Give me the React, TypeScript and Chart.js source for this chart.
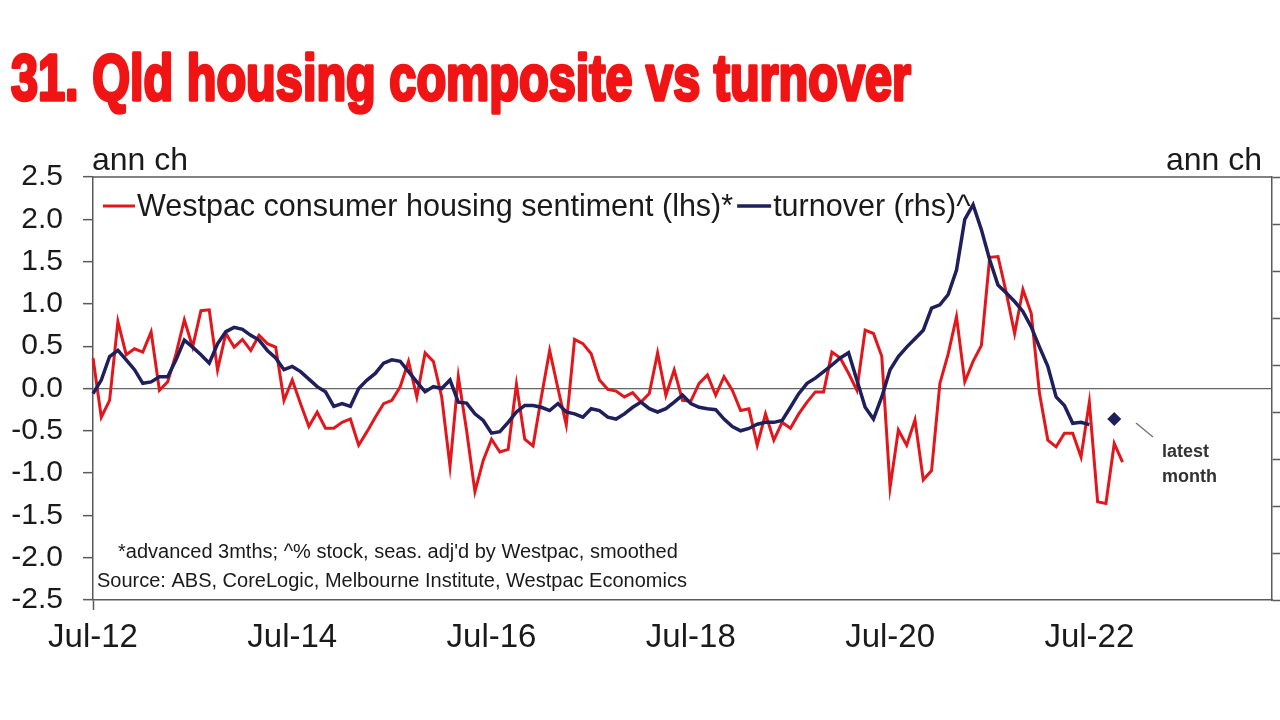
import React, { useEffect, useRef } from 'react';
import { Chart, registerables } from 'chart.js';

Chart.register(...registerables);

// ---------- DATA ----------
const MONTH_NAMES = ['Jan', 'Feb', 'Mar', 'Apr', 'May', 'Jun', 'Jul', 'Aug', 'Sep', 'Oct', 'Nov', 'Dec'];
const START_MONTH = 6; // July
const START_YEAR = 2012;
const N_MONTHS = 143; // Jul-12 .. May-24

const months: string[] = [];
for (let i = 0; i < N_MONTHS; i++) {
  const mi = (START_MONTH + i) % 12;
  const y = START_YEAR + Math.floor((START_MONTH + i) / 12);
  months.push(`${MONTH_NAMES[mi]}-${String(y % 100).padStart(2, '0')}`);
}

const xTickLabels = ['Jul-12', 'Jul-14', 'Jul-16', 'Jul-18', 'Jul-20', 'Jul-22'];

// Westpac consumer housing sentiment (lhs), ann ch, monthly from Jul-12
const sentiment = [
  0.36, -0.34, -0.14, 0.79, 0.40, 0.47, 0.43, 0.67, -0.02, 0.08,
  0.41, 0.81, 0.49, 0.92, 0.93, 0.22, 0.65, 0.49, 0.58, 0.45,
  0.63, 0.53, 0.49, -0.14, 0.10, -0.18, -0.45, -0.28, -0.47, -0.47,
  -0.40, -0.36, -0.67, -0.51, -0.34, -0.18, -0.14, 0.02, 0.32, -0.10,
  0.42, 0.32, -0.10, -0.92, 0.14, -0.50, -1.22, -0.85, -0.60, -0.75,
  -0.72, 0.05, -0.60, -0.68, -0.10, 0.45, 0.00, -0.43, 0.58, 0.53,
  0.41, 0.10, -0.01, -0.03, -0.10, -0.05, -0.16, -0.06, 0.42, -0.08,
  0.22, -0.14, -0.15, 0.06, 0.16, -0.08, 0.14, -0.02, -0.26, -0.24,
  -0.67, -0.30, -0.61, -0.40, -0.47, -0.30, -0.16, -0.04, -0.04, 0.43,
  0.36, 0.18, -0.02, 0.69, 0.65, 0.38, -1.17, -0.49, -0.67, -0.37,
  -1.08, -0.97, 0.06, 0.41, 0.85, 0.08, 0.32, 0.51, 1.55, 1.56,
  1.13, 0.65, 1.17, 0.89, -0.06, -0.61, -0.69, -0.53, -0.53, -0.81,
  -0.16, -1.34, -1.36, -0.65, -0.87,
];

// Turnover (rhs), ann ch, monthly from Jul-12
const turnover = [
  -0.11, 0.18, 0.68, 0.81, 0.61, 0.40, 0.11, 0.14, 0.25, 0.25,
  0.61, 1.03, 0.88, 0.72, 0.54, 0.95, 1.21, 1.30, 1.26, 1.13,
  1.03, 0.81, 0.65, 0.40, 0.47, 0.36, 0.20, 0.04, -0.07, -0.38,
  -0.32, -0.38, 0.00, 0.18, 0.32, 0.54, 0.61, 0.58, 0.36, 0.14,
  -0.07, 0.04, 0.00, 0.18, -0.29, -0.31, -0.54, -0.68, -0.95, -0.92,
  -0.72, -0.50, -0.36, -0.36, -0.40, -0.47, -0.32, -0.50, -0.54, -0.61,
  -0.43, -0.47, -0.61, -0.65, -0.54, -0.40, -0.29, -0.43, -0.50, -0.43,
  -0.29, -0.14, -0.32, -0.40, -0.43, -0.45, -0.65, -0.81, -0.90, -0.85,
  -0.76, -0.72, -0.72, -0.68, -0.40, -0.11, 0.11, 0.22, 0.36, 0.50,
  0.65, 0.76, 0.18, -0.40, -0.65, -0.18, 0.40, 0.68, 0.88, 1.06,
  1.24, 1.71, 1.78, 2.00, 2.52, 3.60, 3.91, 3.38, 2.74, 2.20,
  2.03, 1.85, 1.64, 1.31, 0.88, 0.47, -0.18, -0.36, -0.74, -0.72,
  -0.77,
];

const latestTurnoverMonth = 'Oct-22';
const latestTurnoverValue = -0.65;

const LHS_MIN = -2.5;
const LHS_MAX = 2.5;
const LHS_STEP = 0.5;
const RHS_MIN = -4.5;
const RHS_MAX = 4.5;
const RHS_STEP = 1;

// ---------- TEXT ----------
const TITLE = '31. Qld housing composite vs turnover';
const LEGEND_1 = 'Westpac consumer housing sentiment (lhs)*';
const LEGEND_2 = 'turnover (rhs)^';
const UNIT = 'ann ch';
const NOTE_1 = "*advanced 3mths; ^% stock, seas. adj'd by Westpac, smoothed";
const NOTE_2 = 'Source: ABS, CoreLogic, Melbourne Institute, Westpac Economics';
const LATEST_1 = 'latest';
const LATEST_2 = 'month';

// ---------- STYLE ----------
const RED = '#e3161b';
const NAVY = '#1f1f5c';
const TITLE_RED = '#f01414';
const TEXT = '#1a1a1a';
const AXIS = '#5a5a5a';
const FONT = '"Liberation Sans", Arial, Helvetica, sans-serif';

const decor = {
  id: 'decor',
  beforeDraw(chart: any) {
    const { ctx, width, height } = chart;
    ctx.save();
    ctx.fillStyle = '#ffffff';
    ctx.fillRect(0, 0, width, height);
    ctx.restore();
  },
  afterDraw(chart: any) {
    const { ctx, chartArea: a } = chart;
    ctx.save();

    // top border of plot box
    ctx.strokeStyle = AXIS;
    ctx.lineWidth = 1.5;
    ctx.beginPath();
    ctx.moveTo(a.left, a.top);
    ctx.lineTo(a.right, a.top);
    ctx.stroke();

    // title
    ctx.font = `bold 65px ${FONT}`;
    ctx.textBaseline = 'alphabetic';
    ctx.textAlign = 'left';
    const tw = ctx.measureText(TITLE).width;
    const sx = 900 / tw;
    ctx.save();
    ctx.translate(11, 100);
    ctx.scale(sx, 1);
    ctx.fillStyle = TITLE_RED;
    ctx.strokeStyle = TITLE_RED;
    ctx.lineWidth = 3.5;
    ctx.lineJoin = 'round';
    ctx.fillText(TITLE, 0, 0);
    ctx.strokeText(TITLE, 0, 0);
    ctx.restore();

    // unit labels
    ctx.fillStyle = TEXT;
    ctx.font = `32px ${FONT}`;
    ctx.textAlign = 'left';
    ctx.fillText(UNIT, 92, 170);
    ctx.textAlign = 'right';
    ctx.fillText(UNIT, 1262, 170);

    // legend
    ctx.textAlign = 'left';
    ctx.font = `30.5px ${FONT}`;
    const ly = 206;
    let x = 103;
    ctx.strokeStyle = RED;
    ctx.lineWidth = 3;
    ctx.beginPath();
    ctx.moveTo(x, ly);
    ctx.lineTo(x + 32, ly);
    ctx.stroke();
    x += 34;
    ctx.fillStyle = TEXT;
    ctx.fillText(LEGEND_1, x, ly + 10);
    x += ctx.measureText(LEGEND_1).width + 4;
    ctx.strokeStyle = NAVY;
    ctx.lineWidth = 3.5;
    ctx.beginPath();
    ctx.moveTo(x, ly);
    ctx.lineTo(x + 34, ly);
    ctx.stroke();
    x += 36;
    ctx.fillText(LEGEND_2, x, ly + 10);

    // footnotes
    ctx.font = `20px ${FONT}`;
    ctx.fillText(NOTE_1, 118, 558);
    ctx.fillText(NOTE_2, 97, 587);

    // latest month annotation
    ctx.strokeStyle = '#777777';
    ctx.lineWidth = 1.5;
    ctx.beginPath();
    ctx.moveTo(1136, 423);
    ctx.lineTo(1153, 437);
    ctx.stroke();
    ctx.font = `bold 18px ${FONT}`;
    ctx.fillStyle = '#333333';
    ctx.fillText(LATEST_1, 1162, 457);
    ctx.fillText(LATEST_2, 1162, 482);

    ctx.restore();
  },
};

export default function App() {
  const canvasRef = useRef<HTMLCanvasElement | null>(null);

  useEffect(() => {
    const canvas = canvasRef.current;
    if (!canvas) return;

    const chart = new Chart(canvas, {
      type: 'line',
      data: {
        labels: months,
        datasets: [
          {
            label: LEGEND_1,
            data: sentiment,
            borderColor: RED,
            backgroundColor: RED,
            borderWidth: 3,
            pointRadius: 0,
            tension: 0,
            yAxisID: 'y',
            order: 2,
          },
          {
            label: LEGEND_2,
            data: turnover,
            borderColor: NAVY,
            backgroundColor: NAVY,
            borderWidth: 3.5,
            pointRadius: 0,
            tension: 0,
            yAxisID: 'y2',
            order: 1,
          },
          {
            label: 'latest month',
            data: [{ x: latestTurnoverMonth, y: latestTurnoverValue }] as any,
            borderColor: NAVY,
            backgroundColor: NAVY,
            showLine: false,
            pointStyle: 'rectRot',
            pointRadius: 7,
            pointBorderWidth: 0,
            yAxisID: 'y2',
            order: 0,
          },
        ],
      },
      options: {
        animation: false,
        responsive: false,
        maintainAspectRatio: false,
        layout: { padding: { top: 177, left: 0, right: 0, bottom: 0 } },
        plugins: {
          legend: { display: false },
          tooltip: { enabled: false },
          title: { display: false },
        },
        scales: {
          x: {
            type: 'category',
            offset: false,
            border: { display: true, color: AXIS, width: 1.5 },
            grid: {
              drawOnChartArea: false,
              drawTicks: true,
              tickLength: 10,
              tickWidth: 1.5,
              tickColor: (ctx: any) =>
                xTickLabels.includes(months[ctx.index]) ? AXIS : 'rgba(0,0,0,0)',
            },
            ticks: {
              autoSkip: false,
              maxRotation: 0,
              minRotation: 0,
              padding: 8,
              color: TEXT,
              font: { size: 33, family: FONT },
              callback: (_v: any, i: number) =>
                xTickLabels.includes(months[i]) ? months[i] : null,
            },
            afterFit: (s: any) => {
              s.height = 120;
            },
          },
          y: {
            position: 'left',
            min: LHS_MIN,
            max: LHS_MAX,
            border: { display: true, color: AXIS, width: 1.5 },
            grid: {
              drawOnChartArea: true,
              drawTicks: true,
              tickLength: 10,
              tickWidth: 1.5,
              tickColor: AXIS,
              lineWidth: 1.3,
              color: (ctx: any) =>
                ctx.tick && Math.abs(ctx.tick.value) < 1e-9 ? '#666666' : 'rgba(0,0,0,0)',
            },
            ticks: {
              stepSize: LHS_STEP,
              padding: 20,
              color: TEXT,
              font: { size: 30, family: FONT },
              callback: (v: any) => Number(v).toFixed(1),
            },
            afterFit: (s: any) => {
              s.width = 93;
            },
          },
          y2: {
            position: 'right',
            min: RHS_MIN,
            max: RHS_MAX,
            border: { display: true, color: AXIS, width: 1.5 },
            grid: {
              drawOnChartArea: false,
              drawTicks: true,
              tickLength: 8,
              tickWidth: 1.5,
              tickColor: AXIS,
            },
            ticks: {
              stepSize: RHS_STEP,
              display: false,
            },
            afterFit: (s: any) => {
              s.width = 8;
            },
          },
        },
      },
      plugins: [decor],
    } as any);

    return () => {
      chart.destroy();
    };
  }, []);

  return (
    <div
      style={{
        position: 'fixed',
        left: 0,
        top: 0,
        width: 1280,
        height: 720,
        background: '#ffffff',
        overflow: 'hidden',
      }}
    >
      <canvas ref={canvasRef} width={1280} height={720} style={{ display: 'block' }} />
    </div>
  );
}
